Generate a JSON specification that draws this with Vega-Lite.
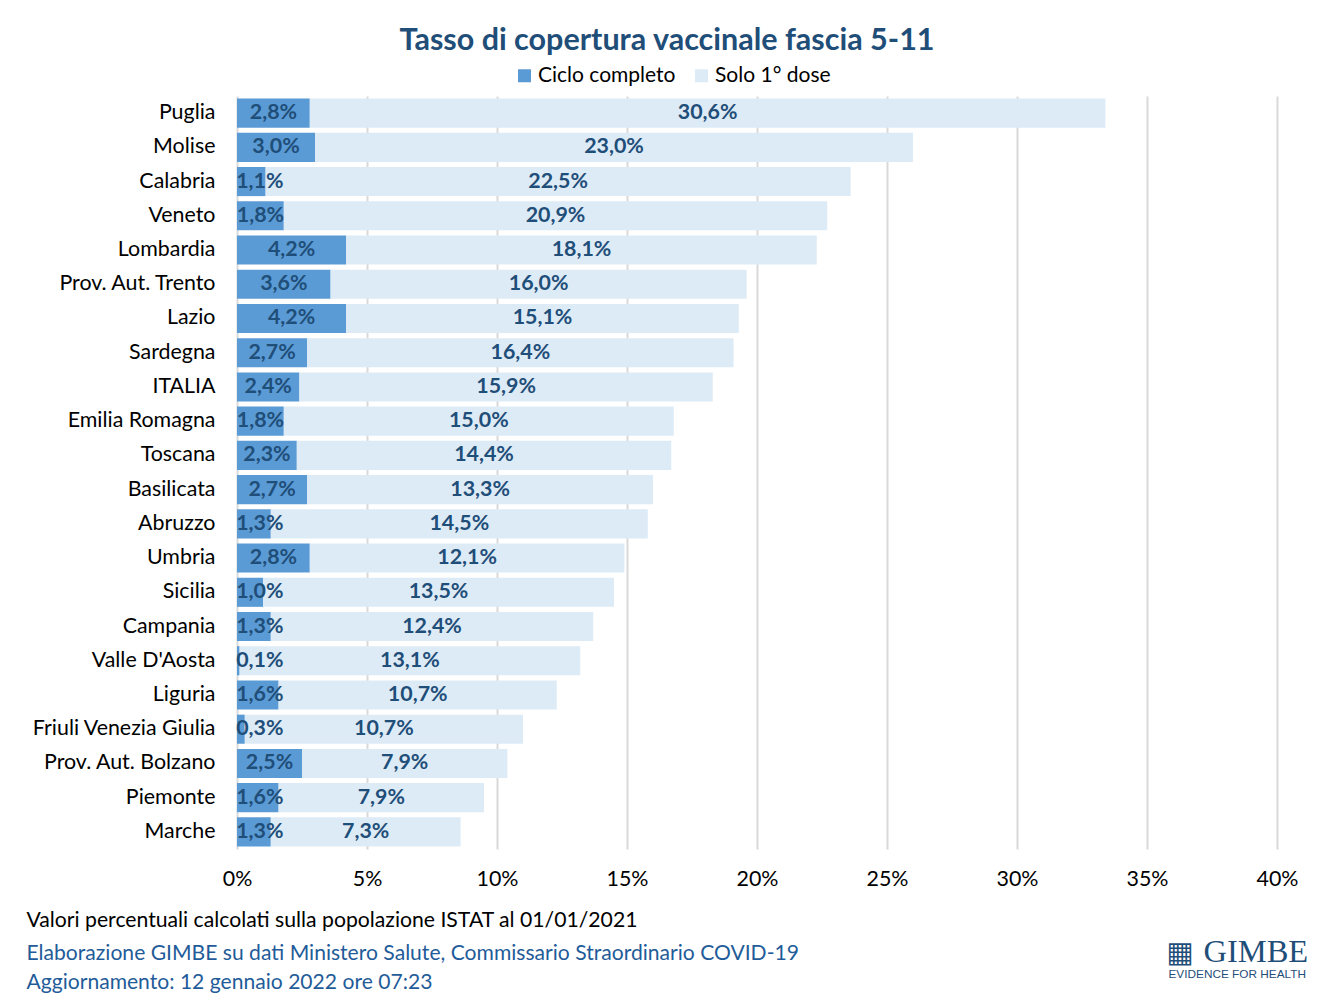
{
  "$schema": "https://vega.github.io/schema/vega-lite/v6.json",
  "autosize": "none",
  "width": 1040,
  "height": 753,
  "padding": {"left": 237, "top": 96, "right": 58, "bottom": 157},
  "background": "white",
  "config": {
    "locale": {"number": {"decimal": ",", "thousands": ".", "grouping": [3], "currency": ["€", ""]}},
    "font": "Lato",
    "view": {"stroke": null}
  },
  "title": {
    "text": "Tasso di copertura vaccinale fascia 5-11",
    "font": "Lato",
    "fontSize": 30.5,
    "fontWeight": "bold",
    "color": "#1F4E79",
    "anchor": "middle",
    "frame": "group",
    "dx": -90,
    "offset": 9
  },
  "data": {
    "values": [
      {"regione": "Puglia", "ciclo": 0.028, "dose": 0.306},
      {"regione": "Molise", "ciclo": 0.030, "dose": 0.230},
      {"regione": "Calabria", "ciclo": 0.011, "dose": 0.225},
      {"regione": "Veneto", "ciclo": 0.018, "dose": 0.209},
      {"regione": "Lombardia", "ciclo": 0.042, "dose": 0.181},
      {"regione": "Prov. Aut. Trento", "ciclo": 0.036, "dose": 0.160},
      {"regione": "Lazio", "ciclo": 0.042, "dose": 0.151},
      {"regione": "Sardegna", "ciclo": 0.027, "dose": 0.164},
      {"regione": "ITALIA", "ciclo": 0.024, "dose": 0.159},
      {"regione": "Emilia Romagna", "ciclo": 0.018, "dose": 0.150},
      {"regione": "Toscana", "ciclo": 0.023, "dose": 0.144},
      {"regione": "Basilicata", "ciclo": 0.027, "dose": 0.133},
      {"regione": "Abruzzo", "ciclo": 0.013, "dose": 0.145},
      {"regione": "Umbria", "ciclo": 0.028, "dose": 0.121},
      {"regione": "Sicilia", "ciclo": 0.010, "dose": 0.135},
      {"regione": "Campania", "ciclo": 0.013, "dose": 0.124},
      {"regione": "Valle D'Aosta", "ciclo": 0.001, "dose": 0.131},
      {"regione": "Liguria", "ciclo": 0.016, "dose": 0.107},
      {"regione": "Friuli Venezia Giulia", "ciclo": 0.003, "dose": 0.107},
      {"regione": "Prov. Aut. Bolzano", "ciclo": 0.025, "dose": 0.079},
      {"regione": "Piemonte", "ciclo": 0.016, "dose": 0.079},
      {"regione": "Marche", "ciclo": 0.013, "dose": 0.073}
    ]
  },
  "layer": [
    {
      "transform": [{"fold": ["ciclo", "dose"], "as": ["serie", "quota"]}],
      "mark": {"type": "bar"},
      "encoding": {
        "y": {
          "field": "regione",
          "type": "nominal",
          "sort": null,
          "scale": {"paddingInner": 0.15, "paddingOuter": 0.075},
          "axis": {
            "title": "GIMBE",
            "titleAngle": 0,
            "titleX": 966,
            "titleY": 865,
            "titleAlign": "left",
            "titleBaseline": "alphabetic",
            "titleFont": "Liberation Serif",
            "titleFontSize": 32.5,
            "titleFontWeight": "normal",
            "titleColor": "#1F4E79",
            "domain": false,
            "ticks": false,
            "labelPadding": 22,
            "labelLimit": 400,
            "labelFont": "Lato",
            "labelFontSize": 21.4,
            "labelColor": "#000000"
          }
        },
        "x": {
          "field": "quota",
          "type": "quantitative",
          "stack": "zero",
          "scale": {"domain": [0, 0.4]},
          "axis": {
            "values": [0, 0.05, 0.1, 0.15, 0.2, 0.25, 0.3, 0.35, 0.4],
            "format": ".0%",
            "grid": true,
            "gridColor": "#D9D9D9",
            "gridWidth": 2,
            "domain": false,
            "ticks": false,
            "labelFlush": false,
            "labelPadding": 19,
            "labelFont": "Lato",
            "labelFontSize": 21.4,
            "labelColor": "#000000",
            "title": "Valori percentuali calcolati sulla popolazione ISTAT al 01/01/2021",
            "titleX": -211,
            "titleY": 77,
            "titleAnchor": "start",
            "titleAlign": "left",
            "titleBaseline": "alphabetic",
            "titleFont": "Lato",
            "titleFontSize": 21.2,
            "titleFontWeight": "normal",
            "titleColor": "#000000"
          }
        },
        "color": {
          "field": "serie",
          "type": "nominal",
          "scale": {"domain": ["ciclo", "dose"], "range": ["#5B9BD5", "#DDEBF7"]},
          "legend": {
            "orient": "none",
            "legendX": 277,
            "legendY": -31,
            "direction": "horizontal",
            "title": null,
            "padding": 0,
            "symbolType": "square",
            "symbolSize": 169,
            "symbolStrokeWidth": 0,
            "labelFont": "Lato",
            "labelFontSize": 21,
            "labelColor": "#000000",
            "labelOffset": 3,
            "columnPadding": 15,
            "labelExpr": "datum.label == 'ciclo' ? 'Ciclo completo' : 'Solo 1° dose'"
          }
        },
        "order": {"field": "serie"}
      }
    },
    {
      "transform": [{"calculate": "max(datum.ciclo / 2, 0.0088)", "as": "pos"}],
      "mark": {"type": "text", "font": "Lato", "fontSize": 21.4, "fontWeight": "bold", "color": "#1F4E79", "align": "center", "baseline": "middle"},
      "encoding": {
        "y": {
          "field": "regione",
          "type": "nominal",
          "sort": null,
          "axis": {
            "orient": "left",
            "labels": false,
            "ticks": false,
            "domain": false,
            "grid": false,
            "title": "EVIDENCE FOR HEALTH",
            "titleAngle": 0,
            "titleX": 931,
            "titleY": 881,
            "titleAlign": "left",
            "titleBaseline": "alphabetic",
            "titleFont": "Liberation Sans",
            "titleFontSize": 11.8,
            "titleFontWeight": "normal",
            "titleColor": "#1F4E79"
          }
        },
        "x": {
          "field": "pos",
          "type": "quantitative",
          "axis": {
            "orient": "bottom",
            "labels": false,
            "ticks": false,
            "domain": false,
            "grid": false,
            "title": ["Elaborazione GIMBE su dati Ministero Salute, Commissario Straordinario COVID-19", "Aggiornamento: 12 gennaio 2022 ore 07:23"],
            "titleX": -211,
            "titleY": 110,
            "titleAnchor": "start",
            "titleAlign": "left",
            "titleBaseline": "alphabetic",
            "titleFont": "Lato",
            "titleFontSize": 21.1,
            "titleFontWeight": "normal",
            "titleLineHeight": 29,
            "titleColor": "#1F5C99"
          }
        },
        "text": {"field": "ciclo", "type": "quantitative", "format": ".1%"}
      }
    },
    {
      "transform": [{"calculate": "datum.ciclo + datum.dose / 2", "as": "pos"}],
      "mark": {"type": "text", "font": "Lato", "fontSize": 21.4, "fontWeight": "bold", "color": "#1F4E79", "align": "center", "baseline": "middle"},
      "encoding": {
        "y": {
          "field": "regione",
          "type": "nominal",
          "sort": null,
          "axis": {
            "orient": "left",
            "labels": false,
            "ticks": false,
            "domain": false,
            "grid": false,
            "title": "▦",
            "titleAngle": 0,
            "titleX": 929,
            "titleY": 865,
            "titleAlign": "left",
            "titleBaseline": "alphabetic",
            "titleFont": "DejaVu Sans",
            "titleFontSize": 29,
            "titleFontWeight": "normal",
            "titleColor": "#1F4E79"
          }
        },
        "x": {"field": "pos", "type": "quantitative", "axis": null},
        "text": {"field": "dose", "type": "quantitative", "format": ".1%"}
      }
    }
  ],
  "resolve": {"axis": {"x": "independent", "y": "independent"}}
}
